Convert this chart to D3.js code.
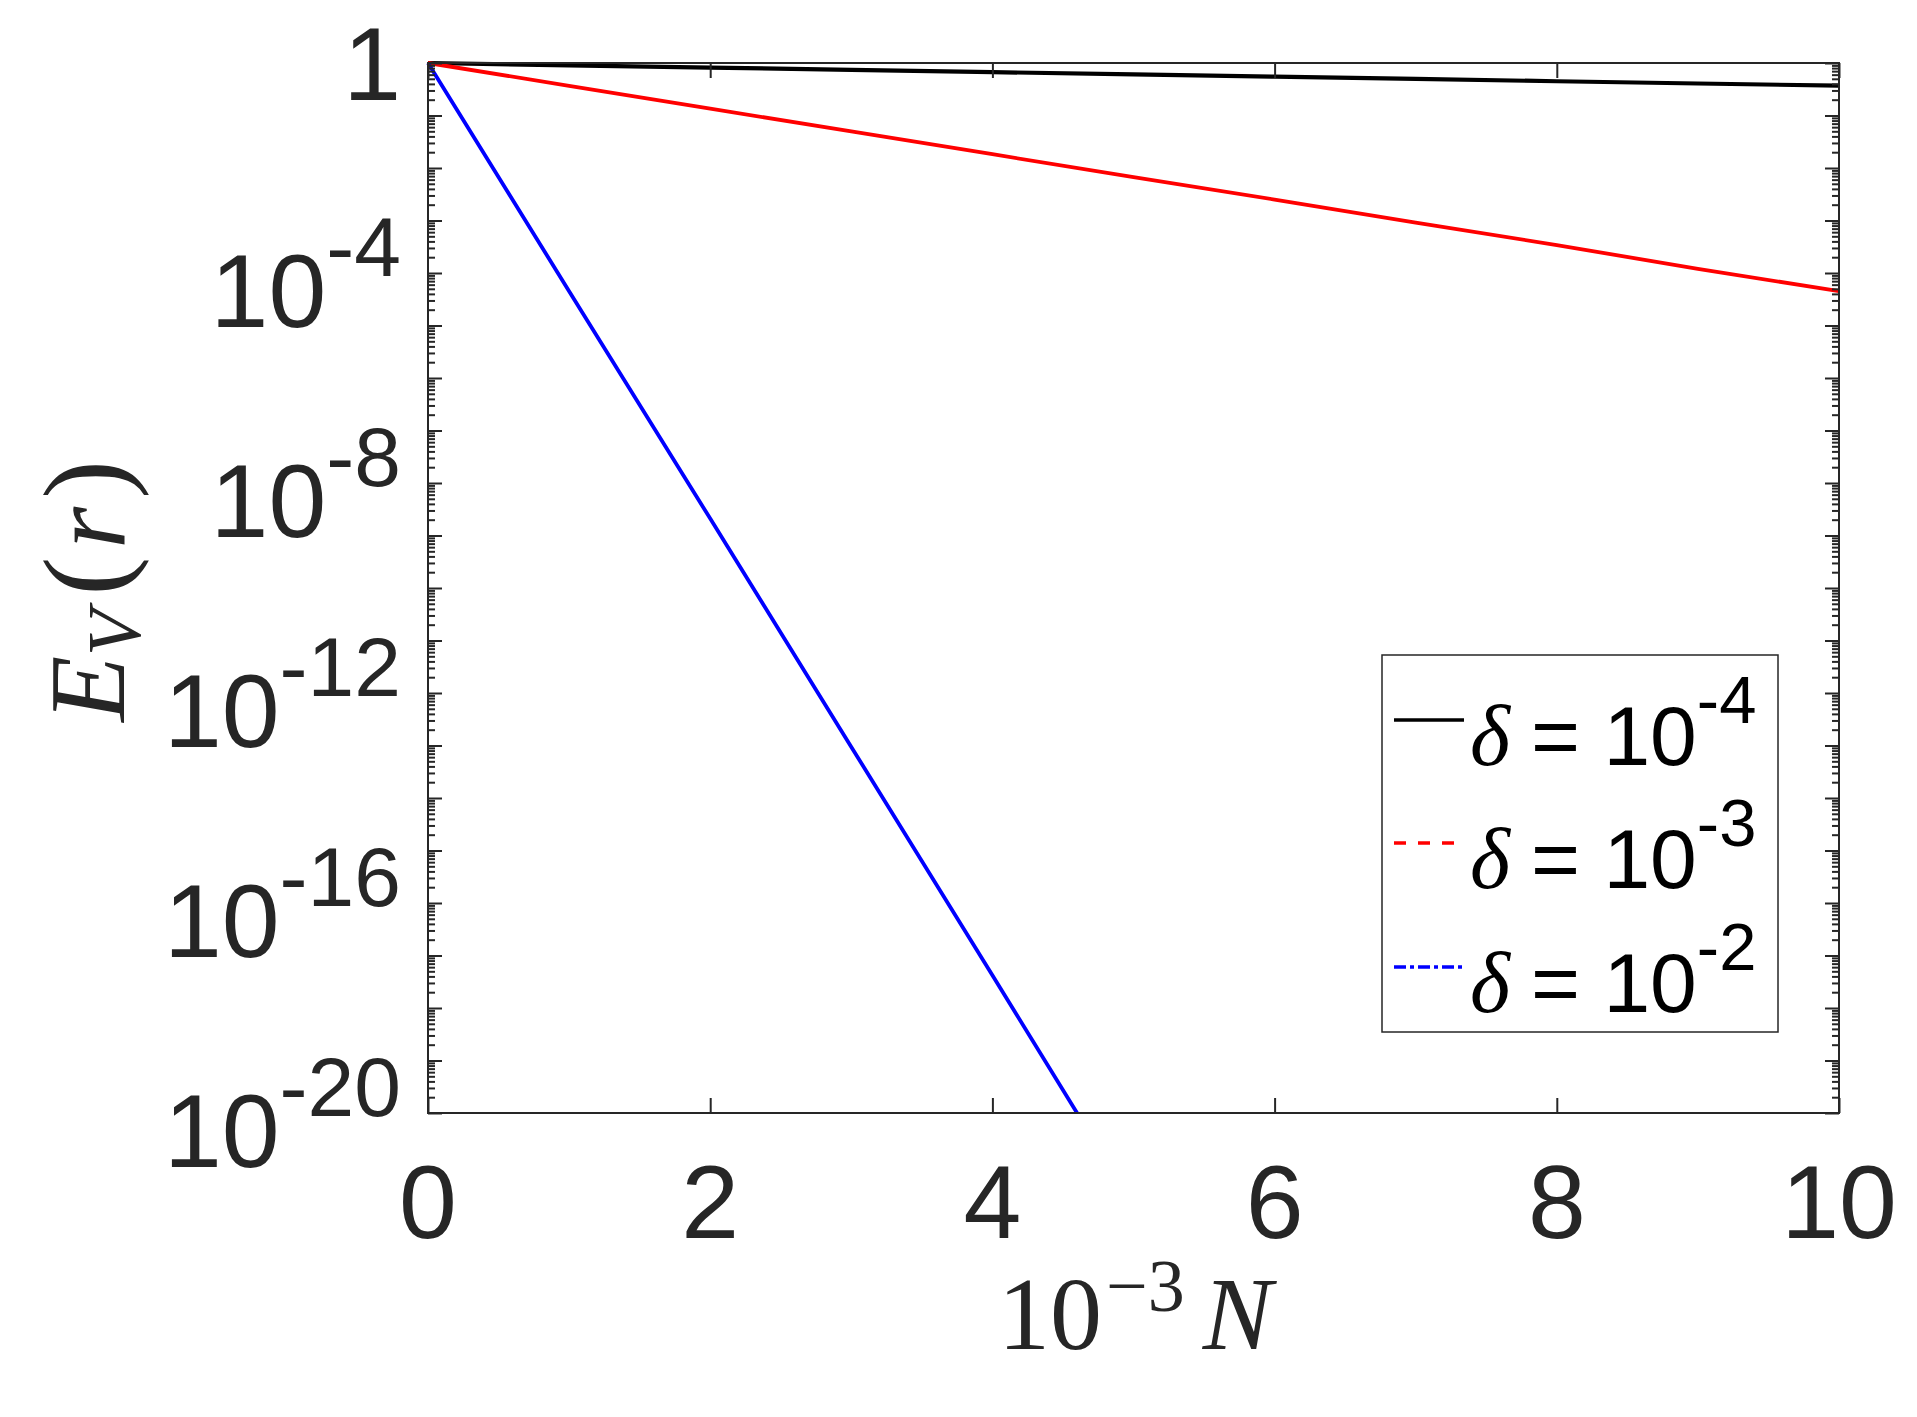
<!DOCTYPE html>
<html>
<head>
<meta charset="utf-8">
<script src="https://cdn.jsdelivr.net/npm/d3@7"></script>
<style>
  html, body { margin: 0; padding: 0; background: #ffffff; }
  svg { display: block; }
</style>
</head>
<body>
<svg id="chart" width="1917" height="1417"></svg>
<script>
// ---- data ----
const xTicks = [0, 2, 4, 6, 8, 10];
const yTickExps = [0, -4, -8, -12, -16, -20];
const seriesNames = ["δ = 10^-4", "δ = 10^-3", "δ = 10^-2"];
const legendExps = ["-4", "-3", "-2"];
// x in units of 10^3 N
const xBlack = [0, 1, 2, 3, 4, 5, 6, 7, 8, 9, 10];
const yBlack = [1, 0.905, 0.819, 0.741, 0.670, 0.607, 0.549, 0.497, 0.449, 0.407, 0.37];
const xRed = [0, 1, 2, 3, 4, 5, 6, 7, 8, 9, 10];
const yRed = [1, 0.368, 0.135, 0.0498, 0.0183, 6.7e-3, 2.5e-3, 9.1e-4, 3.4e-4, 1.2e-4, 4.5e-5];
const xBlue = [0, 1, 2, 3, 4, 4.6];
const yBlue = [1, 4.5e-5, 2.1e-9, 9.4e-14, 4.2e-18, 1e-20];

const colors = ["#000000", "#ff0000", "#0000ff"];
const dashes = [null, "12,12", "12,4,4,4"];

// ---- layout ----
const L = 428, R = 1839, T = 63, B = 1113;
const ink = "#262626";
const svg = d3.select("#chart");

const x = d3.scaleLinear().domain([0, 10]).range([L, R]);
const y = d3.scaleLog().domain([1e-20, 1]).range([B, T]);

// clip
svg.append("defs").append("clipPath").attr("id", "clip")
  .append("rect").attr("x", L - 5).attr("y", T - 5).attr("width", R - L + 10).attr("height", B - T + 5);

// series lines
const series = [
  { xs: xBlack, ys: yBlack },
  { xs: xRed, ys: yRed },
  { xs: xBlue, ys: yBlue }
];
const line = d3.line().x(d => x(d[0])).y(d => y(d[1]));
const gLines = svg.append("g").attr("clip-path", "url(#clip)");
series.forEach((s, i) => {
  const pts = s.xs.map((v, j) => [v, s.ys[j]]);
  gLines.append("path").datum(pts)
    .attr("d", line)
    .attr("fill", "none")
    .attr("stroke", colors[i])
    .attr("stroke-width", i === 0 ? 4.2 : 3.8)
    .attr("stroke-linejoin", "round");
});

// axes (box with inward ticks on all sides)
const minorVals = [];
for (let e = -20; e < 0; e++) {
  for (let m = 2; m <= 9; m++) minorVals.push(m * Math.pow(10, e));
}
const majorVals = d3.range(-20, 1).map(e => Math.pow(10, e));

function yAxis(gen, tx) {
  const g = svg.append("g").attr("transform", `translate(${tx},0)`);
  g.call(gen.tickValues(majorVals).tickSize(-14).tickFormat(""));
  g.selectAll(".domain").remove();
  g.selectAll(".tick line").attr("stroke", ink).attr("stroke-width", 2);
  return g;
}
function yMinor(gen, tx) {
  const g = svg.append("g").attr("transform", `translate(${tx},0)`);
  g.call(gen.tickValues(minorVals).tickSize(-7).tickFormat(""));
  g.selectAll(".domain").remove();
  g.selectAll(".tick line").attr("stroke", ink).attr("stroke-width", 2);
}
yAxis(d3.axisLeft(y), L);
yMinor(d3.axisLeft(y), L);
yAxis(d3.axisRight(y), R);
yMinor(d3.axisRight(y), R);

function xAxis(gen, ty) {
  const g = svg.append("g").attr("transform", `translate(0,${ty})`);
  g.call(gen.tickValues(xTicks).tickSize(-15).tickFormat(""));
  g.selectAll(".domain").remove();
  g.selectAll(".tick line").attr("stroke", ink).attr("stroke-width", 2);
}
xAxis(d3.axisBottom(x), B);
xAxis(d3.axisTop(x), T);

// frame
svg.append("rect").attr("x", L).attr("y", T).attr("width", R - L).attr("height", B - T)
  .attr("fill", "none").attr("stroke", ink).attr("stroke-width", 2);

// x tick labels
svg.append("g").selectAll("text").data(xTicks).join("text")
  .attr("x", d => x(d)).attr("y", 1238)
  .attr("text-anchor", "middle")
  .attr("font-family", "'Liberation Sans', Arial, sans-serif")
  .attr("font-size", 104).attr("fill", ink)
  .text(d => d);

// y tick labels
const yl = svg.append("g");
yTickExps.forEach(e => {
  const ty = y(Math.pow(10, e));
  if (e === 0) {
    yl.append("text").attr("x", 401).attr("y", ty + 37)
      .attr("text-anchor", "end")
      .attr("font-family", "'Liberation Sans', Arial, sans-serif")
      .attr("font-size", 104).attr("fill", ink).text("1");
  } else {
    const t = yl.append("text").attr("x", 401).attr("y", ty + 54)
      .attr("text-anchor", "end")
      .attr("font-family", "'Liberation Sans', Arial, sans-serif")
      .attr("font-size", 104).attr("fill", ink);
    t.append("tspan").text("10");
    t.append("tspan").attr("dy", -51).attr("font-size", 84).text("-" + Math.abs(e));
  }
});

// x axis label: 10^{-3} N
const xl = svg.append("text").attr("x", 1135).attr("y", 1349)
  .attr("text-anchor", "middle")
  .attr("font-family", "'Liberation Serif', 'Times New Roman', serif")
  .attr("font-size", 104).attr("fill", ink);
xl.append("tspan").text("10");
xl.append("tspan").attr("dy", -38).attr("dx", 4).attr("font-size", 74).text("−3");
xl.append("tspan").attr("dy", 38).attr("dx", 18).attr("font-style", "italic").text("N");

// y axis label: E_V(r)
const ylab = svg.append("text")
  .attr("transform", "translate(124,591) rotate(-90)")
  .attr("text-anchor", "middle")
  .attr("font-family", "'Liberation Serif', 'Times New Roman', serif")
  .attr("font-size", 108).attr("fill", ink);
ylab.append("tspan").attr("font-style", "italic").text("E");
ylab.append("tspan").attr("dy", 16).attr("font-size", 76).attr("font-style", "italic").text("V");
ylab.append("tspan").attr("dy", -16).attr("dx", 14).attr("font-size", 116).text("(");
ylab.append("tspan").attr("dx", 8).attr("font-style", "italic").text("r");
ylab.append("tspan").attr("dx", 8).attr("font-size", 116).text(")");

// legend
const lg = svg.append("g");
lg.append("rect").attr("x", 1382).attr("y", 655).attr("width", 396).attr("height", 377)
  .attr("fill", "#ffffff").attr("stroke", ink).attr("stroke-width", 1.5);
const rowY = [720, 843, 967];
seriesNames.forEach((name, i) => {
  const ry = rowY[i];
  const ln = lg.append("line").attr("x1", 1394).attr("x2", 1464).attr("y1", ry).attr("y2", ry)
    .attr("stroke", colors[i]).attr("stroke-width", 3.5);
  if (dashes[i]) ln.attr("stroke-dasharray", dashes[i]);
  lg.append("text").attr("x", 1470).attr("y", ry + 45)
    .attr("font-family", "'Liberation Serif', 'Times New Roman', serif")
    .attr("font-style", "italic").attr("font-size", 86).attr("fill", "#000")
    .text("δ");
  const t = lg.append("text").attr("x", 1531).attr("y", ry + 45)
    .attr("font-family", "'Liberation Sans', Arial, sans-serif")
    .attr("font-size", 84).attr("fill", "#000");
  t.append("tspan").text("= 10");
  t.append("tspan").attr("dy", -42).attr("font-size", 67).text(legendExps[i]);
});
</script>
</body>
</html>
